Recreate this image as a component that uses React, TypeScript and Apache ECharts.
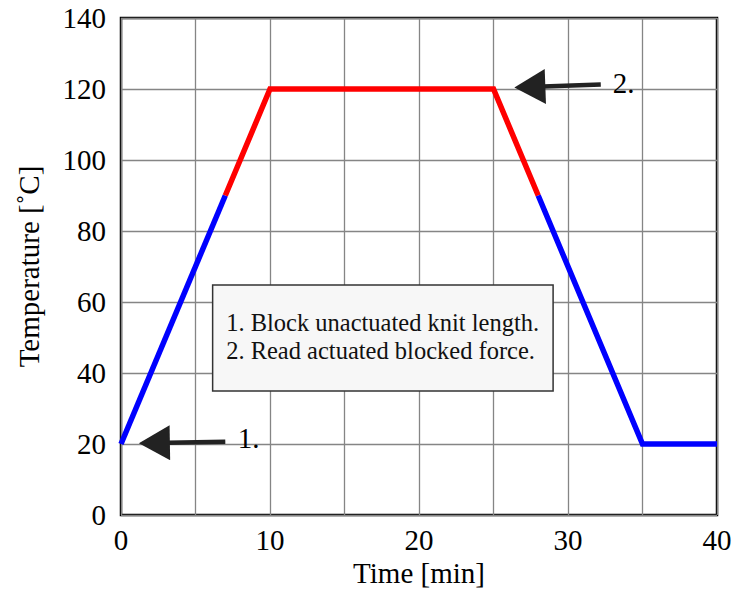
import React, { useEffect, useRef } from "react";
import * as echarts from "echarts";

// Temperature profile (time in minutes, temperature in °C)
const timeValues = [0, 7, 10, 25, 28, 35, 40];
const tempValues = [20, 90, 120, 120, 90, 20, 20];
// Segments of the profile (start index, end index inclusive)
const rampUpLow = [0, 1];
const hotPhase = [1, 4];
const coolDown = [4, 6];

const xTicks = [0, 10, 20, 30, 40];
const yTicks = [0, 20, 40, 60, 80, 100, 120, 140];

const annotationLabels = ["1.", "2."];
const noteLines = ["1. Block unactuated knit length.", "2. Read actuated blocked force."];

const pick = (r: number[]) =>
  timeValues.slice(r[0], r[1] + 1).map((t, i) => [t, tempValues[r[0] + i]]);

export default function App() {
  const ref = useRef<HTMLDivElement>(null);
  useEffect(() => {
    document.body.style.margin = "0";
    const chart = echarts.init(ref.current!, null, { renderer: "svg" });
    const font = "Liberation Serif";
    const lineW = 5.5;
    const option: any = {
      animation: false,
      grid: {
        left: 121, top: 18, width: 596, height: 497, show: true,
        borderColor: "#000", borderWidth: 2.5, backgroundColor: "transparent",
      },
      xAxis: {
        type: "value", min: xTicks[0], max: xTicks[xTicks.length - 1], interval: 5,
        name: "Time [min]", nameLocation: "middle", nameGap: 35,
        nameTextStyle: { fontFamily: font, fontSize: 29, color: "#000" },
        axisLine: { show: false }, axisTick: { show: false },
        axisLabel: {
          fontFamily: font, fontSize: 29, color: "#000", margin: 10,
          formatter: (v: number) => (xTicks.includes(v) ? String(v) : ""),
        },
        splitLine: { show: true, lineStyle: { color: "#858585", width: 1.3 } },
      },
      yAxis: {
        type: "value", min: yTicks[0], max: yTicks[yTicks.length - 1], interval: 20,
        name: "Temperature [˚C]", nameLocation: "middle", nameGap: 78,
        nameTextStyle: { fontFamily: font, fontSize: 29, color: "#000" },
        axisLine: { show: false }, axisTick: { show: false },
        axisLabel: { fontFamily: font, fontSize: 29, color: "#000", margin: 15 },
        splitLine: { show: true, lineStyle: { color: "#858585", width: 1.3 } },
      },
      series: [
        { type: "line", data: pick(rampUpLow), color: "#0000ff" },
        { type: "line", data: pick(hotPhase), color: "#ff0000" },
        { type: "line", data: pick(coolDown), color: "#0000ff" },
      ].map((s) => ({
        ...s, showSymbol: false, symbol: "none",
        lineStyle: { width: lineW, color: s.color, cap: "butt", join: "miter" }, z: 3,
      })),
    };
    chart.setOption(option);

    const px = (x: number, y: number) =>
      chart.convertToPixel({ gridIndex: 0 }, [x, y]) as number[];

    const arrow = (tail: number[], tip: number[]) => {
      const headLen = 31, headHalf = 17.5;
      const dx = tip[0] - tail[0], dy = tip[1] - tail[1];
      const len = Math.hypot(dx, dy);
      const ux = dx / len, uy = dy / len;
      const bx = tip[0] - ux * headLen, by = tip[1] - uy * headLen;
      const pxn = -uy, pyn = ux;
      return [
        { type: "line", shape: { x1: tail[0], y1: tail[1], x2: bx + ux * 2, y2: by + uy * 2 },
          style: { stroke: "#222", lineWidth: 4.5 }, z: 10 },
        { type: "polygon", shape: { points: [[tip[0], tip[1]],
            [bx + pxn * headHalf, by + pyn * headHalf], [bx - pxn * headHalf, by - pyn * headHalf]] },
          style: { fill: "#222" }, z: 10 },
      ];
    };

    const a1tail = px(7.0, 20.6);
    const a1tip = px(1.2, 20.2);
    const a2tail = px(32.2, 121.3);
    const a2tip = px(26.4, 120.4);
    const l1 = px(7.84, 21.7);
    const l2 = px(33.0, 121.7);
    const boxTL = px(6.15, 64.8);
    const boxBR = px(29.0, 34.9);

    const label = (p: number[], text: string) => ({
      type: "text", z: 10,
      style: { x: p[0], y: p[1], text, fontFamily: font, fontSize: 29, fill: "#000", align: "left", verticalAlign: "middle" },
    });

    const graphics: any[] = [
      ...arrow(a1tail, a1tip),
      ...arrow(a2tail, a2tip),
      label(l1, annotationLabels[0]),
      label(l2, annotationLabels[1]),
      { type: "rect", z: 10,
        shape: { x: boxTL[0], y: boxTL[1], width: boxBR[0] - boxTL[0], height: boxBR[1] - boxTL[1] },
        style: { fill: "#f7f7f7", stroke: "#333", lineWidth: 1.5 } },
      { type: "text", z: 11,
        style: { x: boxTL[0] + 13.5, y: (boxTL[1] + boxBR[1]) / 2 - 2, text: noteLines.join("\n"),
          fontFamily: font, fontSize: 24.5, lineHeight: 28, fill: "#111", align: "left", verticalAlign: "middle" } },
    ];
    chart.setOption({ graphic: graphics });
    return () => chart.dispose();
  }, []);
  return <div ref={ref} style={{ width: 736, height: 599 }} />;
}
